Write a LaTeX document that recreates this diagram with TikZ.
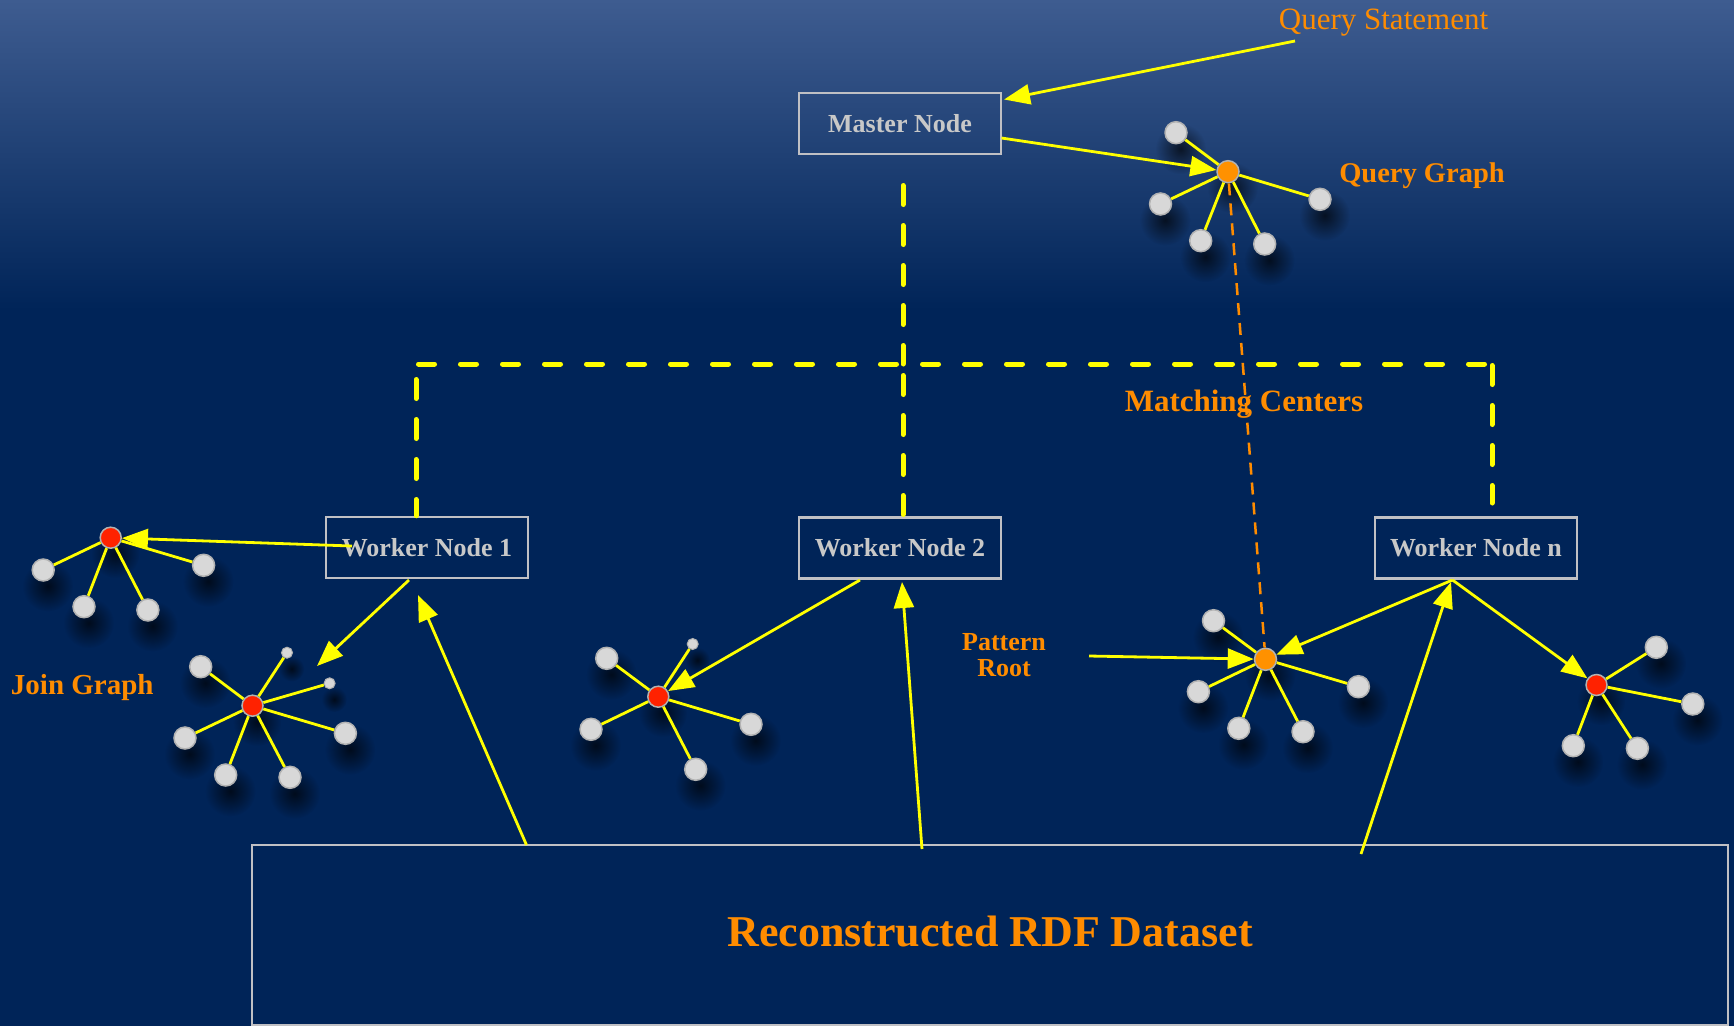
\documentclass[tikz,border=0pt]{standalone}
\usepackage{fontspec}
\setmainfont{Liberation Serif}
\usetikzlibrary{arrows.meta,shadows,fadings}
\definecolor{bgtop}{RGB}{62,92,144}
\definecolor{bgdark}{RGB}{0,36,88}
\definecolor{ylw}{RGB}{255,255,0}
\definecolor{orng}{RGB}{255,140,0}
\definecolor{boxgray}{RGB}{192,192,196}
\definecolor{txtgray}{RGB}{200,200,200}
\definecolor{leaffill}{RGB}{216,216,216}
\definecolor{leafline}{RGB}{178,178,178}
\definecolor{redc}{RGB}{255,34,0}
\definecolor{orc}{RGB}{255,145,0}
\tikzfading[name=softshade, inner color=transparent!10, outer color=transparent!100]
\begin{document}
\begin{tikzpicture}[x=1pt,y=-1pt,
  wbox/.style={draw=boxgray, line width=2.5pt, minimum width=202pt, minimum height=61pt, inner sep=0pt, text=txtgray, font=\bfseries\fontsize{26}{30}\selectfont},
  lbl/.style={text=orng, inner sep=0pt},
  leaf/.style={circle, fill=leaffill, draw=leafline, line width=1.5pt, minimum size=22pt, inner sep=0pt,
    general shadow={shadow xshift=2pt, shadow yshift=-7pt, shadow scale=2.3, fill=black, path fading=softshade, opacity=0.75}},
  tinyleaf/.style={leaf, minimum size=11pt, line width=1pt},
  hubred/.style={leaf, fill=redc, minimum size=21pt},
  hubor/.style={leaf, fill=orc, minimum size=22pt},
  spoke/.style={draw=ylw, line width=2.8pt},
  arr/.style={draw=ylw, line width=2.8pt, -{Triangle[length=26pt,width=20pt]}},
  hdash/.style={draw=ylw, line width=5pt, line cap=round, dash pattern=on 16pt off 26pt},
  vdash/.style={draw=ylw, line width=5pt, line cap=round, dash pattern=on 19pt off 21pt},
  odash/.style={draw=orng, line width=2.5pt, dash pattern=on 12pt off 8pt}
]
\useasboundingbox (0,0) rectangle (1734,1026);
% background
\fill[bgdark] (0,0) rectangle (1734,1026);
\shade[top color=bgtop, bottom color=bgdark] (0,0) rectangle (1734,310);

% boxes
\node[wbox] (mn) at (900,123.5) {Master Node};
\node[wbox] (w1) at (427,547.5) {Worker Node 1};
\node[wbox] (w2) at (900,547.8) {Worker Node 2};
\node[wbox] (wn) at (1476,547.8) {Worker Node n};
\draw[draw=boxgray, line width=2.5pt] (252,845) rectangle (1728,1025);
\node[lbl, font=\bfseries\fontsize{44}{47}\selectfont, anchor=base] (ds) at (990,946.7) {Reconstructed RDF Dataset};

% dashed yellow tree
\coordinate (mv1) at (903,185.5);
\coordinate (mv2) at (903,364);
\coordinate (mv3) at (903,375.5);
\coordinate (hL) at (418.5,364);
\coordinate (hR) at (1492,364);
\coordinate (lv) at (416,379.5);
\coordinate (rv1) at (1492,365.5);
\coordinate (rv2) at (1492,503);
\draw[vdash] (mv1) -- (mv2);
\draw[vdash] (mv3) -- (w2.north -| mv3);
\draw[hdash] (hL) -- (hR);
\draw[vdash] (lv) -- (w1.north -| lv);
\draw[vdash] (rv1) -- (rv2);

% query graph
\node[leaf] (q1) at (1176,132.7) {};
\node[leaf] (q2) at (1160.5,204) {};
\node[leaf] (q3) at (1200.7,240.7) {};
\node[leaf] (q4) at (1264.7,244) {};
\node[leaf] (q5) at (1320,199.3) {};
\node[hubor] (qc) at (1228,171.7) {};
\foreach \l in {q1,q2,q3,q4,q5} \draw[spoke] (qc) -- (\l);

% join graph 1 (top left)
\node[leaf] (a1) at (43.2,570) {};
\node[leaf] (a2) at (84,606.7) {};
\node[leaf] (a3) at (147.9,610) {};
\node[leaf] (a4) at (203.6,565.3) {};
\node[hubred] (j1c) at (110.7,537.7) {};
\foreach \l in {a1,a2,a3,a4} \draw[spoke] (j1c) -- (\l);

% join graph 2
\node[leaf] (b1) at (200.7,666.7) {};
\node[leaf] (b2) at (185,738) {};
\node[leaf] (b3) at (225.7,775) {};
\node[leaf] (b4) at (290,777.3) {};
\node[leaf] (b5) at (345.4,733.3) {};
\node[tinyleaf] (b6) at (287,652.7) {};
\node[tinyleaf] (b7) at (329.6,683.3) {};
\node[hubred] (j2c) at (252.5,705.7) {};
\foreach \l in {b1,b2,b3,b4,b5,b6,b7} \draw[spoke] (j2c) -- (\l);

% graph under worker 2
\node[leaf] (c1) at (606.7,658.3) {};
\node[leaf] (c2) at (591,729.3) {};
\node[leaf] (c3) at (695.7,769.3) {};
\node[leaf] (c4) at (751,724.3) {};
\node[tinyleaf] (c5) at (692.7,644) {};
\node[hubred] (g2c) at (658.3,696.7) {};
\foreach \l in {c1,c2,c3,c4,c5} \draw[spoke] (g2c) -- (\l);

% pattern root graph
\node[leaf] (p1) at (1213.5,620.7) {};
\node[leaf] (p2) at (1198.4,691.7) {};
\node[leaf] (p3) at (1238.8,728.3) {};
\node[leaf] (p4) at (1303,731.7) {};
\node[leaf] (p5) at (1358.4,686.7) {};
\node[hubor] (pc) at (1265.5,659.3) {};
\foreach \l in {p1,p2,p3,p4,p5} \draw[spoke] (pc) -- (\l);

% right graph
\node[leaf] (r1) at (1656.3,647.3) {};
\node[leaf] (r2) at (1692.8,704) {};
\node[leaf] (r3) at (1573.3,745.7) {};
\node[leaf] (r4) at (1637.4,748.3) {};
\node[hubred] (rc) at (1596.5,685) {};
\foreach \l in {r1,r2,r3,r4} \draw[spoke] (rc) -- (\l);

% labels
\node[lbl, font=\fontsize{31}{34}\selectfont] (qst) at (1383.5,23) {Query Statement};
\node[lbl, font=\bfseries\fontsize{28.5}{31}\selectfont, anchor=base] (qgl) at (1422,182.7) {Query Graph};
\node[lbl, font=\bfseries\fontsize{31}{34}\selectfont, anchor=base] (mcl) at (1244,411.7) {Matching Centers};
\node[lbl, font=\bfseries\fontsize{29}{31}\selectfont, anchor=base] (jgl) at (82.3,694) {Join Graph};
\node[lbl, font=\bfseries\fontsize{26}{26.7}\selectfont, align=center] (prl) at (1004,655) {Pattern\\Root};

% arrows
\coordinate (qsOut) at (1295,41);
\coordinate (mnIn) at (1004,99.5);
\coordinate (mnOut) at (1001.5,138);
\coordinate (w1a) at (352,546);
\coordinate (w1b) at (409,580);
\coordinate (j2tip) at (317,666);
\coordinate (w2a) at (860,580);
\coordinate (wna) at (1452.5,580);
\coordinate (prOut) at (1089,656);
\coordinate (d1) at (526.5,845);
\coordinate (t1) at (418,595);
\coordinate (d2) at (922,849);
\coordinate (t2) at (902,582);
\coordinate (d3) at (1361,854);
\coordinate (t3) at (1451,582);
\draw[arr] (qsOut) -- (mnIn);
\draw[arr] (mnOut) -- (qc);
\draw[arr] (w1a) -- (j1c);
\draw[arr] (w1b) -- (j2tip);
\draw[arr] (w2a) -- (g2c);
\draw[arr] (wna) -- (pc);
\draw[arr] (wna) -- (rc);
\draw[arr] (prOut) -- (pc);
\draw[arr] (d1) -- (t1);
\draw[arr] (d2) -- (t2);
\draw[arr] (d3) -- (t3);

% matching-centre link
\draw[odash] (qc) -- (pc);
\end{tikzpicture}
\end{document}
